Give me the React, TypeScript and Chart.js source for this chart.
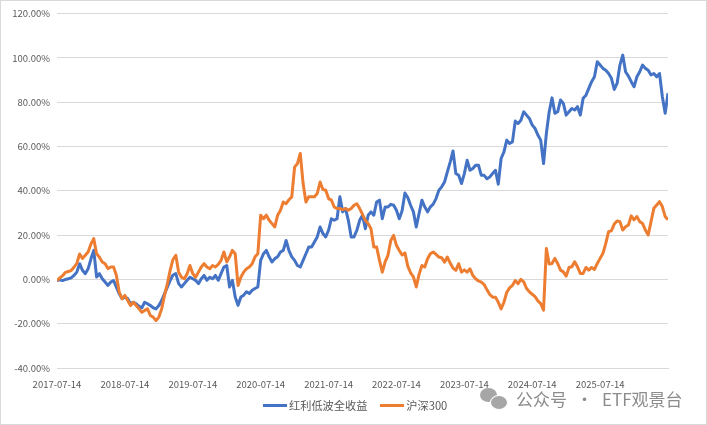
import { useEffect, useRef } from 'react'
import { Chart, registerables } from 'chart.js'

Chart.register(...registerables)

// x tick labels, one per year
const xTickLabels = [
  '2017-07-14', '2018-07-14', '2019-07-14', '2020-07-14', '2021-07-14',
  '2022-07-14', '2023-07-14', '2024-07-14', '2025-07-14',
]

const seriesNames = ['红利低波全收益', '沪深300']
const seriesColors = ['#4472C4', '#ED7D31']

// cumulative return (%), one value every half month starting 2017-07-14
const dividendLowVol = [
  -0.5, -0.2, -0.5, 0, 0.3, 0.7, 1.8, 3.3, 7.1, 4.1,
  2.6, 4.8, 9.3, 13.1, 1.1, 2.6, 0.3, -1.2, -2.7, -1.2,
  -0.5, -3.5, -6.5, -8.7, -8, -8.7, -11, -10.3, -11, -12.2,
  -12.8, -10.3, -11, -11.8, -12.8, -13.3, -11.8, -9.5, -6.5, -3.5,
  -0.5, 2.0, 2.6, -1.9, -3.4, -1.9, -0.4, 1.0, 0.3, -0.4,
  -1.9, 0.3, 1.8, -0.4, 1.0, 0.3, 1.8, -0.4, 2.6, 5.6,
  6.3, -3.4, -0.4, -7.9, -11.7, -7.9, -7.1, -5.6, -6.4, -4.9,
  -4.1, -3.4, 8.6, 11.6, 13.1, 10.2, 7.9, 9.4, 10.2, 12.4,
  13.1, 17.6, 13, 10.2, 8.6, 6.3, 5.6, 8.6, 11.6, 14.6,
  14.6, 16.9, 19.2, 23.7, 20.7, 19.2, 22.2, 27.4, 26.7, 27.4,
  37.3, 30.5, 32, 26.7, 19.2, 19.2, 22.2, 26.7, 29, 22.9,
  29, 30.5, 29, 35, 35.8, 27.4, 32.7, 32.7, 33.9, 33.5,
  31.2, 27.4, 31, 39, 37, 33.5, 30.5, 23.7, 29.8, 35.8,
  32.8, 30.5, 32.8, 34, 36.5, 40.3, 41.8, 44, 48.6, 53,
  58, 47.8, 47, 43.3, 47.8, 53.8, 49.3, 50.1, 51.6, 51.6,
  47, 47, 45.5, 46.3, 47.8, 49.3, 43, 54.6, 57.6, 62.9,
  61.4, 62.1, 71.5, 70.4, 71.9, 75.7, 74.2, 72.7, 69.7, 68.2,
  65.2, 62.9, 52.3, 65.9, 75.7, 82, 75, 75.7, 81, 79.5,
  74.2, 75.7, 77.2, 76.5, 78, 74.2, 81.8, 83.2, 86.3, 89.3,
  91.5, 98.3, 96.8, 95.3, 94.5, 93, 90.8, 85.8, 88.5, 96.8,
  101.3, 93.8, 91.8, 89.3, 87, 91.5, 93.8, 96.8, 95.3, 94.5,
  92.3, 93, 91.5, 93, 82.5, 75, 84.1,
]

const csi300 = [
  -0.5, 0.7, 1.7, 3.2, 3.6, 4.0, 5.5, 7.3, 11.5, 9.5,
  10.9, 12.4, 16, 18.4, 11.6, 10, 7.9, 7.1, 4.9, 5.6,
  5.6, 1.8, -5.8, -8.7, -7.2, -9.5, -11.8, -10.3, -11.8, -13.3,
  -14.8, -14, -13.3, -16.3, -17, -18.6, -17, -13.3, -7.2, -2,
  4.1, 9, 10.9, 3.3, 1.0, 0.3, 2.6, 6.3, 2.6, 1.0,
  3.3, 5.6, 7.1, 5.6, 4.8, 6.3, 5.6, 6.8, 8.6, 12.4,
  7.9, 10.2, 13.1, 11.6, -2.7, 1.0, 3.3, 4.8, 5.6, 7.1,
  10.2, 11.6, 29, 27.4, 29, 26.7, 25.2, 23.7, 29, 31.2,
  35, 34.2, 36, 37.3, 50.8, 52.3, 56.9, 43.3, 35, 37.3,
  37.3, 37.3, 38.8, 44, 40.6, 40.3, 36.5, 35.8, 32.7, 32,
  32, 31.5, 32, 31.2, 32, 33.5, 34.2, 32, 29.4, 26.7,
  25.2, 22.9, 14.6, 14.6, 8.6, 3.3, 7.9, 10.9, 17.6, 19.9,
  15.4, 13.1, 11, 12, 6, 3, 1.2, -3.4, 2.3, 6.3,
  5.6, 9.3, 11.6, 12.4, 11.3, 10.1, 9.8, 7.8, 10.1, 7.4,
  5.1, 4.1, 7.1, 3.3, 4.3, 3.3, 4.8, 1.8, 0.3, -0.7,
  -1.2, -2.3, -4.7, -6.8, -8, -8, -10.3, -13.3, -10.3, -5.8,
  -3.8, -2.7, -0.5, -1.9, 0, -1.1, -4.1, -5.6, -6.7, -7.8,
  -9.7, -10.9, -13.9, 14, 7, 7.2, 9.5, 7.2, 4.2, 3.4,
  1.5, 5.4, 5.7, 8, 5.7, 2.7, 2.7, 5.4, 4.2, 5.4,
  4.5, 7.2, 9.5, 11.8, 16.3, 21.6, 22, 25, 26.4, 26.1,
  22.3, 23.8, 24.6, 28.7, 26.9, 28.4, 26.1, 25.3, 22.3, 20.1,
  26.1, 32.1, 33.6, 35.1, 32.9, 28.4, 26.9,
]

const toPoints = (values: number[]) => values.map((y, i) => ({ x: i / 2, y }))

const FONT = '"Noto Sans CJK SC", "Noto Sans", sans-serif'

export default function App() {
  const canvasRef = useRef<HTMLCanvasElement>(null)

  useEffect(() => {
    if (!canvasRef.current) return
    document.body.style.margin = '0'

    const chart = new Chart(canvasRef.current, {
      type: 'line',
      data: {
        datasets: [
          {
            label: seriesNames[0],
            data: toPoints(dividendLowVol),
            borderColor: seriesColors[0],
            borderWidth: 3,
            pointRadius: 0,
            order: 1,
          },
          {
            label: seriesNames[1],
            data: toPoints(csi300),
            borderColor: seriesColors[1],
            borderWidth: 3,
            pointRadius: 0,
            order: 0,
          },
        ],
      },
      options: {
        animation: false,
        responsive: true,
        maintainAspectRatio: false,
        layout: { padding: { left: 6, right: 38, top: 12, bottom: 34 } },
        elements: { line: { borderJoinStyle: 'round', tension: 0 } },
        plugins: {
          legend: { display: false },
          tooltip: { enabled: false },
        },
        scales: {
          x: {
            type: 'linear',
            min: 0,
            max: 108,
            grid: { display: false },
            border: { display: true, color: '#d9d9d9' },
            ticks: {
              stepSize: 12,
              autoSkip: false,
              maxRotation: 0,
              color: '#595959',
              font: { family: FONT, size: 9.5 },
              padding: 3,
              callback: (v) => xTickLabels[Number(v) / 12] ?? '',
            },
            afterFit: (scale) => { scale.height = 22 },
          },
          y: {
            min: -40,
            max: 120,
            grid: { color: '#d9d9d9', drawTicks: false },
            border: { display: false },
            ticks: {
              stepSize: 20,
              color: '#595959',
              font: { family: FONT, size: 9.5 },
              padding: 7,
              callback: (v) => Number(v).toFixed(2) + '%',
            },
            afterFit: (scale) => { scale.width = 50 },
          },
        },
      },
    })

    return () => chart.destroy()
  }, [])

  return (
    <div
      style={{
        position: 'relative',
        width: 707,
        height: 425,
        boxSizing: 'border-box',
        border: '1px solid #d9d9d9',
        background: '#fff',
        overflow: 'hidden',
      }}
    >
      <canvas ref={canvasRef} />
      <div
        style={{
          position: 'absolute',
          left: 262,
          top: 397,
          display: 'flex',
          alignItems: 'center',
          color: '#595959',
          fontFamily: FONT,
          fontSize: 11.2,
          lineHeight: '14px',
        }}
      >
        {seriesNames.map((name, i) => (
          <div key={name} style={{ display: 'flex', alignItems: 'center', marginRight: i === 0 ? 13 : 0 }}>
            <div style={{ width: 24, height: 3, background: seriesColors[i], marginRight: 2 }} />
            <span>{name}</span>
          </div>
        ))}
      </div>
      <div
        style={{
          position: 'absolute',
          left: 479,
          top: 385,
          display: 'flex',
          alignItems: 'center',
          color: '#8c8c8c',
          fontFamily: FONT,
          fontSize: 17,
          pointerEvents: 'none',
        }}
      >
        <div style={{ position: 'relative', width: 28, height: 24, marginRight: 8 }}>
          <div style={{ position: 'absolute', left: 0, top: 1, width: 17, height: 14, borderRadius: '50%', background: '#a6a6a6' }} />
          <div style={{ position: 'absolute', left: 10, top: 8, width: 16, height: 13, borderRadius: '50%', background: '#a6a6a6', border: '1.5px solid #fff' }} />
        </div>
        <span>公众号</span>
        <span style={{ margin: '0 9px' }}>·</span>
        <span>ETF观景台</span>
      </div>
    </div>
  )
}
